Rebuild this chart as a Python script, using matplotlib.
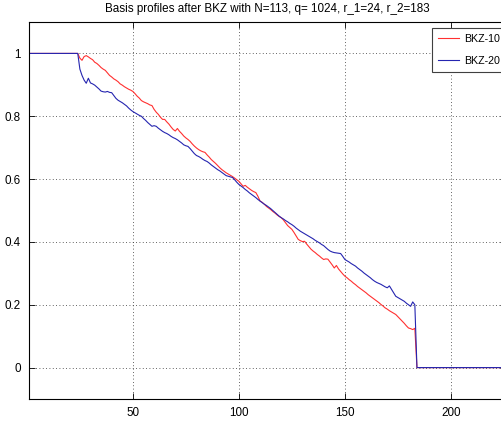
import numpy as np
import matplotlib.pyplot as plt

plt.rcParams['font.family'] = ['Liberation Sans', 'DejaVu Sans']

N = 113
r_1 = 24
r_2 = 183

# normalised profile values for indices r_1+1 .. r_2
bkz10_mid = [
    0.985, 0.978, 0.990, 0.993, 0.989, 0.984, 0.980, 0.972, 0.968, 0.962,
    0.955, 0.950, 0.946, 0.938, 0.930, 0.925, 0.919, 0.915, 0.910, 0.903,
    0.899, 0.894, 0.890, 0.886, 0.883, 0.879, 0.872, 0.864, 0.858, 0.850,
    0.846, 0.843, 0.840, 0.836, 0.834, 0.822, 0.813, 0.806, 0.797, 0.790,
    0.790, 0.782, 0.775, 0.766, 0.758, 0.753, 0.761, 0.752, 0.745, 0.737,
    0.731, 0.726, 0.720, 0.712, 0.705, 0.699, 0.694, 0.690, 0.687, 0.685,
    0.677, 0.670, 0.662, 0.656, 0.650, 0.643, 0.636, 0.630, 0.625, 0.620,
    0.616, 0.612, 0.608, 0.603, 0.598, 0.593, 0.585, 0.577, 0.580, 0.574,
    0.569, 0.564, 0.560, 0.557, 0.545, 0.530, 0.526, 0.520, 0.513, 0.508,
    0.503, 0.497, 0.492, 0.486, 0.481, 0.477, 0.470, 0.461, 0.452, 0.446,
    0.440, 0.430, 0.419, 0.408, 0.404, 0.401, 0.402, 0.393, 0.385, 0.377,
    0.371, 0.366, 0.360, 0.355, 0.349, 0.344, 0.346, 0.345, 0.336, 0.327,
    0.317, 0.325, 0.314, 0.306, 0.298, 0.291, 0.286, 0.280, 0.275, 0.269,
    0.264, 0.258, 0.253, 0.248, 0.243, 0.238, 0.232, 0.227, 0.222, 0.217,
    0.212, 0.207, 0.201, 0.196, 0.190, 0.186, 0.181, 0.177, 0.173, 0.169,
    0.162, 0.155, 0.148, 0.141, 0.133, 0.126, 0.124, 0.121, 0.125,
]

bkz20_mid = [
    0.950, 0.930, 0.915, 0.905, 0.921, 0.906, 0.903, 0.899, 0.893, 0.887,
    0.880, 0.878, 0.877, 0.879, 0.876, 0.875, 0.866, 0.857, 0.851, 0.847,
    0.843, 0.838, 0.833, 0.826, 0.820, 0.815, 0.811, 0.807, 0.803, 0.800,
    0.793, 0.787, 0.780, 0.774, 0.768, 0.770, 0.768, 0.762, 0.757, 0.752,
    0.748, 0.745, 0.741, 0.736, 0.732, 0.729, 0.725, 0.720, 0.715, 0.709,
    0.706, 0.704, 0.697, 0.689, 0.681, 0.675, 0.672, 0.668, 0.663, 0.659,
    0.656, 0.651, 0.645, 0.640, 0.635, 0.630, 0.626, 0.621, 0.616, 0.611,
    0.609, 0.607, 0.605, 0.598, 0.590, 0.583, 0.578, 0.573, 0.567, 0.562,
    0.556, 0.551, 0.546, 0.541, 0.535, 0.530, 0.525, 0.520, 0.516, 0.511,
    0.506, 0.500, 0.494, 0.488, 0.482, 0.477, 0.473, 0.468, 0.464, 0.459,
    0.455, 0.450, 0.444, 0.439, 0.434, 0.430, 0.426, 0.422, 0.418, 0.414,
    0.410, 0.405, 0.401, 0.397, 0.392, 0.388, 0.382, 0.376, 0.371, 0.368,
    0.366, 0.365, 0.364, 0.363, 0.354, 0.344, 0.340, 0.336, 0.331, 0.327,
    0.323, 0.317, 0.312, 0.307, 0.301, 0.296, 0.291, 0.286, 0.280, 0.275,
    0.271, 0.268, 0.265, 0.261, 0.257, 0.254, 0.260, 0.249, 0.238, 0.227,
    0.223, 0.219, 0.215, 0.211, 0.205, 0.200, 0.195, 0.209, 0.200,
]

n = 2 * N
idx = np.arange(1, n + 1)
bkz10 = np.concatenate([np.ones(r_1), bkz10_mid, np.zeros(n - r_2)])
bkz20 = np.concatenate([np.ones(r_1), bkz20_mid, np.zeros(n - r_2)])

fig = plt.figure(figsize=(5.01, 4.22), dpi=100)
ax = fig.add_axes([29 / 501, 23 / 422, 477 / 501, 377 / 422])

ax.plot(idx, bkz10, color='#ff3030', lw=0.8, label='BKZ-10')
ax.plot(idx, bkz20, color='#2525b0', lw=0.8, label='BKZ-20')

ax.set_xlim(1, n)
ax.set_ylim(-0.1, 1.1)
ax.set_xticks([50, 100, 150, 200])
ax.set_yticks([0, 0.2, 0.4, 0.6, 0.8, 1])
ax.set_yticklabels(['0', '0.2', '0.4', '0.6', '0.8', '1'])
ax.grid(True, ls=(0, (1, 3)), color='#303030', lw=0.6)
ax.tick_params(direction='in', top=True, right=True, labelsize=8.4, length=4,
               width=0.6, pad=6)
for s in ax.spines.values():
    s.set_linewidth(0.8)

ax.set_title('Basis profiles after BKZ with N=113, q= 1024, r_1=24, r_2=183',
             fontsize=8.4, pad=7)

# legend box sits partly outside the right edge, like the original
leg = ax.legend(loc='upper left', bbox_to_anchor=(432 / 501, 1 - 28 / 422),
                bbox_transform=fig.transFigure, fontsize=7.7, fancybox=False,
                framealpha=1, edgecolor='#404040', borderpad=0.55,
                handlelength=2.0, handletextpad=0.45, labelspacing=1.12,
                borderaxespad=0)
leg.get_frame().set_linewidth(0.8)

fig.savefig('out.png', dpi=100)
